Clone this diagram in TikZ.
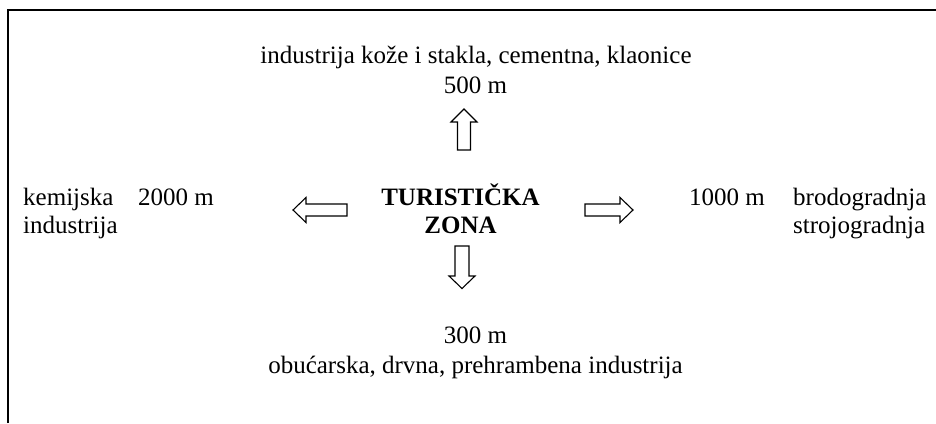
\documentclass[tikz,border=0pt]{standalone}
\usepackage{fontspec}
\setmainfont{Liberation Serif}
\begin{document}
\begin{tikzpicture}[x=1pt,y=-1pt,
  lbl/.style={inner sep=0pt, font=\fontsize{25}{30}\selectfont},
  lblb/.style={inner sep=0pt, font=\fontsize{25}{30}\selectfont\bfseries},
  frame/.style={line width=2pt},
  blockarr/.style={draw, line width=1.1pt, line join=miter, fill=white}]
\useasboundingbox (0,0) rectangle (936,423);
% frame (only top and left edges visible)
\draw[frame] (8,423) -- (8,10) -- (936,10);
% texts
\node[lbl, anchor=base] (top1) at (476,63) {industrija kože i stakla, cementna, klaonice};
\node[lbl, anchor=base] (top2) at (475.5,93) {500 m};
\node[lblb, anchor=base] (c1) at (460.5,205) {TURISTIČKA};
\node[lblb, anchor=base] (c2) at (460.5,233) {ZONA};
\node[lbl, anchor=base west] (l1) at (23,205) {kemijska};
\node[lbl, anchor=base west] (l2) at (23,233) {industrija};
\node[lbl, anchor=base west] (ld) at (138,205) {2000 m};
\node[lbl, anchor=base west] (rd) at (689,205) {1000 m};
\node[lbl, anchor=base west] (r1) at (793,205) {brodogradnja};
\node[lbl, anchor=base west] (r2) at (793,233) {strojogradnja};
\node[lbl, anchor=base] (b1) at (475.5,343) {300 m};
\node[lbl, anchor=base] (b2) at (475.5,373) {obućarska, drvna, prehrambena industrija};
% block arrows
% up
\draw[blockarr] (457.5,150) -- (470.5,150) -- (470.5,122) -- (477,122) -- (464,109) -- (451,122) -- (457.5,122) -- cycle;
% down
\draw[blockarr] (455,246) -- (469,246) -- (469,276) -- (475,276) -- (462,288.5) -- (449,276) -- (455,276) -- cycle;
% left
\draw[blockarr] (347,204) -- (347,216) -- (306,216) -- (306,222.5) -- (293,210) -- (306,197.5) -- (306,204) -- cycle;
% right
\draw[blockarr] (585,204) -- (585,216) -- (620,216) -- (620,222.5) -- (633,210) -- (620,197.5) -- (620,204) -- cycle;
\end{tikzpicture}
\end{document}
